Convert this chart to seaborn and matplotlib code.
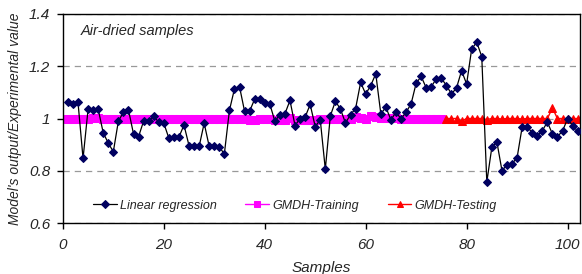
import numpy as np
import pandas as pd
import matplotlib
matplotlib.use("Agg")
import matplotlib.pyplot as plt
import seaborn as sns

# linear regression, samples 1..102
lr_vals = [1.062, 1.054, 1.062, 0.847, 1.036, 1.033, 1.036, 0.945, 0.906, 0.873,
           0.990, 1.024, 1.033, 0.941, 0.931, 0.990, 0.992, 1.008, 0.986, 0.982,
           0.925, 0.929, 0.929, 0.975, 0.896, 0.896, 0.893, 0.982, 0.893, 0.896,
           0.890, 0.865, 1.031, 1.113, 1.122, 1.028, 1.028, 1.074, 1.074, 1.059,
           1.056, 0.990, 1.014, 1.018, 1.069, 0.973, 1.000, 1.005, 1.054, 0.969,
           0.995, 0.806, 1.010, 1.066, 1.036, 0.983, 1.015, 1.038, 1.138, 1.094,
           1.126, 1.171, 1.018, 1.043, 0.995, 1.024, 0.999, 1.024, 1.056, 1.135,
           1.161, 1.117, 1.122, 1.152, 1.154, 1.126, 1.094, 1.117, 1.183, 1.132,
           1.266, 1.292, 1.237, 0.757, 0.890, 0.910, 0.801, 0.822, 0.827, 0.850,
           0.967, 0.969, 0.945, 0.932, 0.954, 0.986, 0.941, 0.931, 0.952, 0.999,
           0.973, 0.952]

# GMDH training, samples 1..75
train_vals = [1.000, 1.000, 1.000, 1.000, 1.000, 1.003, 1.003, 1.000, 1.000, 1.000,
              1.000, 1.000, 1.000, 0.997, 0.997, 1.000, 1.000, 1.000, 1.000, 1.000,
              1.000, 1.000, 1.000, 1.000, 1.000, 1.000, 1.000, 1.000, 1.000, 1.000,
              1.000, 1.000, 1.000, 1.000, 0.997, 0.997, 0.996, 0.996, 0.997, 0.997,
              0.997, 0.995, 0.996, 0.996, 1.003, 0.996, 0.995, 0.995, 0.996, 0.996,
              0.997, 0.998, 1.000, 1.000, 1.000, 1.000, 1.000, 1.004, 1.003, 1.000,
              1.010, 1.004, 1.002, 1.002, 1.002, 1.001, 1.000, 1.000, 1.000, 1.000,
              1.000, 1.000, 1.000, 1.000, 1.000]

# GMDH testing, samples 76..102
test_vals = [1.000, 1.000, 1.000, 0.990, 1.000, 1.000, 1.000, 1.000, 0.996, 1.000,
             1.000, 0.998, 1.000, 1.000, 1.000, 0.998, 1.000, 1.000, 1.000, 1.000,
             1.000, 1.040, 1.000, 1.000, 1.000, 1.000, 1.000]

lr = pd.DataFrame({"Samples": np.arange(1, len(lr_vals) + 1), "ratio": lr_vals})
tr = pd.DataFrame({"Samples": np.arange(1, len(train_vals) + 1), "ratio": train_vals})
te = pd.DataFrame({"Samples": np.arange(76, 76 + len(test_vals)), "ratio": test_vals})

sns.set_style("white")
plt.rcParams['font.family'] = ['Liberation Sans', 'DejaVu Sans']
plt.rcParams['font.style'] = 'italic'

fig = plt.figure(figsize=(5.82, 2.74), dpi=100)
ax = fig.add_axes([0.108, 0.186, 0.888, 0.763])

sns.lineplot(data=tr, x="Samples", y="ratio", ax=ax, color="#ff00ff", lw=1,
             marker="s", markersize=5.5, markeredgecolor="#ff00ff",
             label="GMDH-Training", zorder=2)
sns.lineplot(data=te, x="Samples", y="ratio", ax=ax, color="#ff0000", lw=1,
             marker="^", markersize=5.5, markeredgecolor="#ff0000",
             label="GMDH-Testing", zorder=2)
sns.lineplot(data=lr, x="Samples", y="ratio", ax=ax, color="black", lw=0.9,
             marker="D", markersize=4, markerfacecolor="#000060",
             markeredgecolor="#000060", label="Linear regression", zorder=3)

ax.set_xlim(0, 102.4)
ax.set_ylim(0.6, 1.4)
ax.set_xticks([0, 20, 40, 60, 80, 100])
ax.set_yticks([0.6, 0.8, 1.0, 1.2, 1.4])
ax.set_yticklabels(["0.6", "0.8", "1", "1.2", "1.4"])
ax.yaxis.grid(True, color="#999999", ls=(0, (5, 4)), lw=0.9)
ax.set_axisbelow(True)
for s in ax.spines.values():
    s.set_color("black")
    s.set_linewidth(1)
ax.tick_params(axis="both", direction="out", length=4, width=1, color="black",
               labelsize=11, left=True, bottom=True)
ax.tick_params(axis="x", pad=7)
ax.tick_params(axis="y", pad=5)
ax.set_xlabel("Samples", fontsize=11, labelpad=6)
ax.set_ylabel("Model's output/Experimental value", fontsize=10, labelpad=5)

ax.text(0.035, 0.9, "Air-dried samples", transform=ax.transAxes, fontsize=10.5,
        style="italic")

handles, labels = ax.get_legend_handles_labels()
order = [2, 0, 1]
ax.legend([handles[i] for i in order], [labels[i] for i in order], ncol=3,
          loc="lower center", bbox_to_anchor=(0.449, 0.0), frameon=False,
          fontsize=9, handlelength=1.9, handletextpad=0.25, columnspacing=2.3,
          markerscale=0.9)

fig.savefig("out.png", dpi=100)
